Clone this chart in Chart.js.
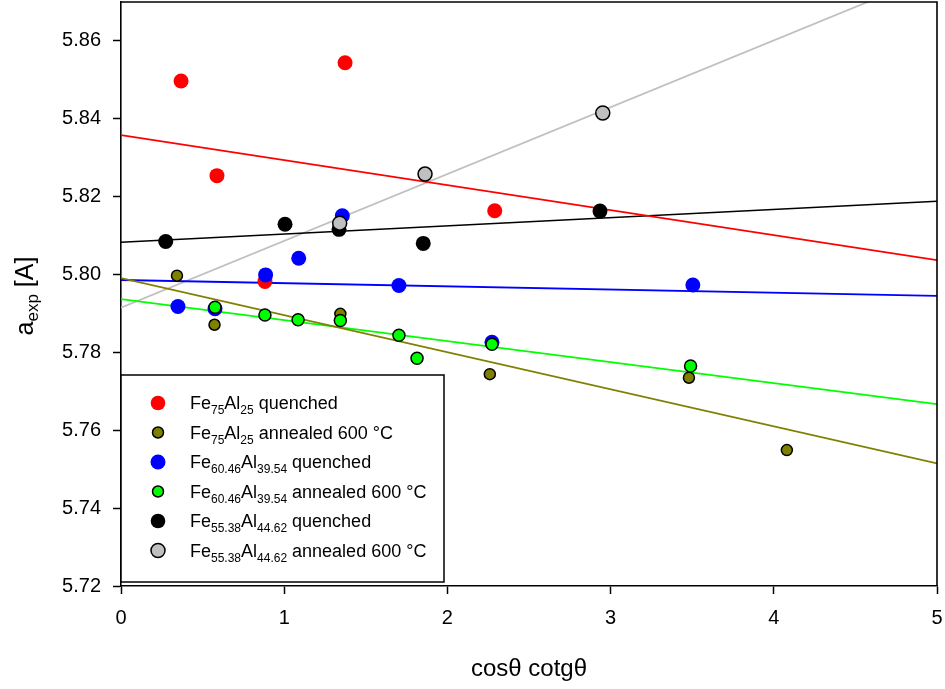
<!DOCTYPE html>
<html>
<head>
<meta charset="utf-8">
<title>Lattice parameter extrapolation</title>
<script src="https://cdn.jsdelivr.net/npm/chart.js@4/dist/chart.umd.min.js"></script>
<style>
  html, body { margin: 0; padding: 0; background: #fff; }
  #wrap { width: 945px; height: 689px; }
</style>
</head>
<body>
<div id="wrap"><canvas id="chart" width="945" height="689"></canvas></div>
<script>
// measured points, x = cos(theta)*cotg(theta), y = a_exp
const redX = [0.368, 0.588, 0.882, 1.373, 2.29];
const redY = [5.8497, 5.8254, 5.7982, 5.8544, 5.8164];

const oliveX = [0.343, 0.573, 1.344, 2.26, 3.48, 4.08];
const oliveY = [5.7997, 5.7871, 5.7899, 5.7744, 5.7735, 5.7549];

const blueX = [0.349, 0.576, 0.886, 1.089, 1.356, 1.703, 2.273, 3.504];
const blueY = [5.7918, 5.7912, 5.7999, 5.8042, 5.8151, 5.7972, 5.7826, 5.7973];

const greenX = [0.576, 0.882, 1.085, 1.344, 1.703, 1.814, 2.273, 3.49];
const greenY = [5.7916, 5.7896, 5.7884, 5.7882, 5.7844, 5.7785, 5.7821, 5.7765];

const blackX = [0.274, 1.005, 1.336, 1.852, 2.935];
const blackY = [5.8085, 5.8129, 5.8116, 5.8080, 5.8163];

const grayX = [1.340, 1.863, 2.952];
const grayY = [5.8132, 5.8258, 5.8415];

// linear fits, value at x = 0 and x = 5
const fitStart = [5.8358, 5.7991, 5.7986, 5.7937, 5.8083, 5.7915];
const fitEnd = [5.8037, 5.7515, 5.7945, 5.7667, 5.8188, 5.8773];

// legend text
const feSub = ['75', '75', '60.46', '60.46', '55.38', '55.38'];
const alSub = ['25', '25', '39.54', '39.54', '44.62', '44.62'];
const states = ['quenched', 'annealed 600 °C', 'quenched', 'annealed 600 °C', 'quenched', 'annealed 600 °C'];

const xTicks = [0, 1, 2, 3, 4, 5];
const yTicks = [5.72, 5.74, 5.76, 5.78, 5.80, 5.82, 5.84, 5.86];

const FONT = "'Liberation Sans', Arial, sans-serif";

const colors = ['#ff0000', '#808000', '#0000ff', '#00ff00', '#000000', '#c0c0c0'];
const radii = [7.5, 5.5, 7.5, 6, 7.5, 7];
const legendRadii = [7.3, 5.5, 7.5, 5.5, 7.3, 7];
const outlined = [false, true, false, true, false, true];

const xs = [redX, oliveX, blueX, greenX, blackX, grayX];
const ys = [redY, oliveY, blueY, greenY, blackY, grayY];

function pts(xArr, yArr) {
    return xArr.map((x, i) => ({ x: x, y: yArr[i] }));
}

const datasets = [];
// later series sit on top of earlier ones
xs.forEach((xArr, i) => {
    datasets.push({
        label: states[i],
        data: pts(xArr, ys[i]),
        showLine: false,
        pointRadius: radii[i],
        pointHoverRadius: radii[i],
        backgroundColor: colors[i],
        borderColor: outlined[i] ? '#000' : colors[i],
        pointBorderWidth: outlined[i] ? 1.5 : 0,
        order: 6 - i
    });
});
fitStart.forEach((y0, i) => {
    datasets.push({
        label: 'fit ' + i,
        data: [{ x: xTicks[0], y: y0 }, { x: xTicks[xTicks.length - 1], y: fitEnd[i] }],
        showLine: true,
        pointRadius: 0,
        borderColor: colors[i],
        borderWidth: i === 4 ? 1.5 : 1.8,
        order: 20
    });
});

// top/right frame, y title with subscript, boxed legend
const decorations = {
    id: 'decorations',
    afterDraw(chart) {
        const ctx = chart.ctx;
        const a = chart.chartArea;
        ctx.save();
        ctx.strokeStyle = '#000';
        ctx.lineWidth = 1.6;
        ctx.beginPath();
        ctx.moveTo(a.left, a.top);
        ctx.lineTo(a.right, a.top);
        ctx.lineTo(a.right, a.bottom);
        ctx.stroke();

        // y axis title
        ctx.save();
        ctx.translate(33, 296);
        ctx.rotate(-Math.PI / 2);
        ctx.fillStyle = '#000';
        ctx.textBaseline = 'alphabetic';
        const big = '25px ' + FONT, small = '17px ' + FONT;
        ctx.font = big;
        const wa = ctx.measureText('a').width;
        const wb = ctx.measureText(' [A]').width;
        ctx.font = small;
        const ws = ctx.measureText('exp').width;
        let x = -(wa + ws + wb) / 2;
        ctx.font = big;
        ctx.fillText('a', x, 0);
        x += wa;
        ctx.font = small;
        ctx.fillText('exp', x, 5);
        x += ws;
        ctx.font = big;
        ctx.fillText(' [A]', x, 0);
        ctx.restore();

        // legend box
        const lx = a.left, ly = 375, lw = 323, lh = 207;
        ctx.fillStyle = '#fff';
        ctx.fillRect(lx, ly, lw, lh);
        ctx.strokeStyle = '#000';
        ctx.lineWidth = 1.5;
        ctx.strokeRect(lx, ly, lw, lh);

        const rowTop = 403, rowStep = 29.5;
        states.forEach((state, i) => {
            const cy = rowTop + i * rowStep;
            ctx.beginPath();
            ctx.arc(lx + 37, cy, legendRadii[i], 0, Math.PI * 2);
            ctx.fillStyle = colors[i];
            ctx.fill();
            if (outlined[i]) {
                ctx.lineWidth = 1.5;
                ctx.strokeStyle = '#000';
                ctx.stroke();
            }
            const base = cy + 6;
            let tx = lx + 69;
            const parts = [
                ['Fe', 0], [feSub[i], 1], ['Al', 0], [alSub[i], 1], [' ' + state, 0]
            ];
            ctx.fillStyle = '#000';
            ctx.textBaseline = 'alphabetic';
            parts.forEach(([t, sub]) => {
                ctx.font = (sub ? '12px ' : '18px ') + FONT;
                ctx.fillText(t, tx, base + (sub ? 5 : 0));
                tx += ctx.measureText(t).width;
            });
        });
        ctx.restore();
    }
};

const ctx = document.getElementById('chart').getContext('2d');
new Chart(ctx, {
    type: 'scatter',
    data: { datasets: datasets },
    options: {
        responsive: false,
        animation: false,
        layout: { autoPadding: false, padding: { top: 2, right: 8, left: 0, bottom: 0 } },
        plugins: {
            legend: { display: false },
            tooltip: { enabled: false }
        },
        scales: {
            x: {
                type: 'linear',
                min: xTicks[0],
                max: xTicks[xTicks.length - 1],
                afterFit: s => { s.height = 103; s.paddingLeft = 0; s.paddingRight = 0; },
                afterBuildTicks: s => { s.ticks = xTicks.map(v => ({ value: v })); },
                ticks: {
                    color: '#000',
                    font: { family: FONT, size: 20 },
                    padding: 12,
                    maxRotation: 0
                },
                grid: { drawOnChartArea: false, tickLength: 8, color: '#000', tickWidth: 1.5 },
                border: { color: '#000', width: 1.6 },
                title: {
                    display: true,
                    text: 'cosθ cotgθ',
                    color: '#000',
                    font: { family: FONT, size: 24 },
                    padding: { top: 0, bottom: 5 }
                }
            },
            y: {
                type: 'linear',
                min: 5.72,
                max: 5.87,
                afterFit: s => { s.width = 121; s.paddingTop = 0; s.paddingBottom = 0; },
                afterBuildTicks: s => { s.ticks = yTicks.map(v => ({ value: v })); },
                ticks: {
                    color: '#000',
                    font: { family: FONT, size: 20 },
                    padding: 12,
                    callback: v => Number(v).toFixed(2)
                },
                grid: { drawOnChartArea: false, tickLength: 8, color: '#000', tickWidth: 1.5 },
                border: { color: '#000', width: 1.6 }
            }
        }
    },
    plugins: [decorations]
});
</script>
</body>
</html>
